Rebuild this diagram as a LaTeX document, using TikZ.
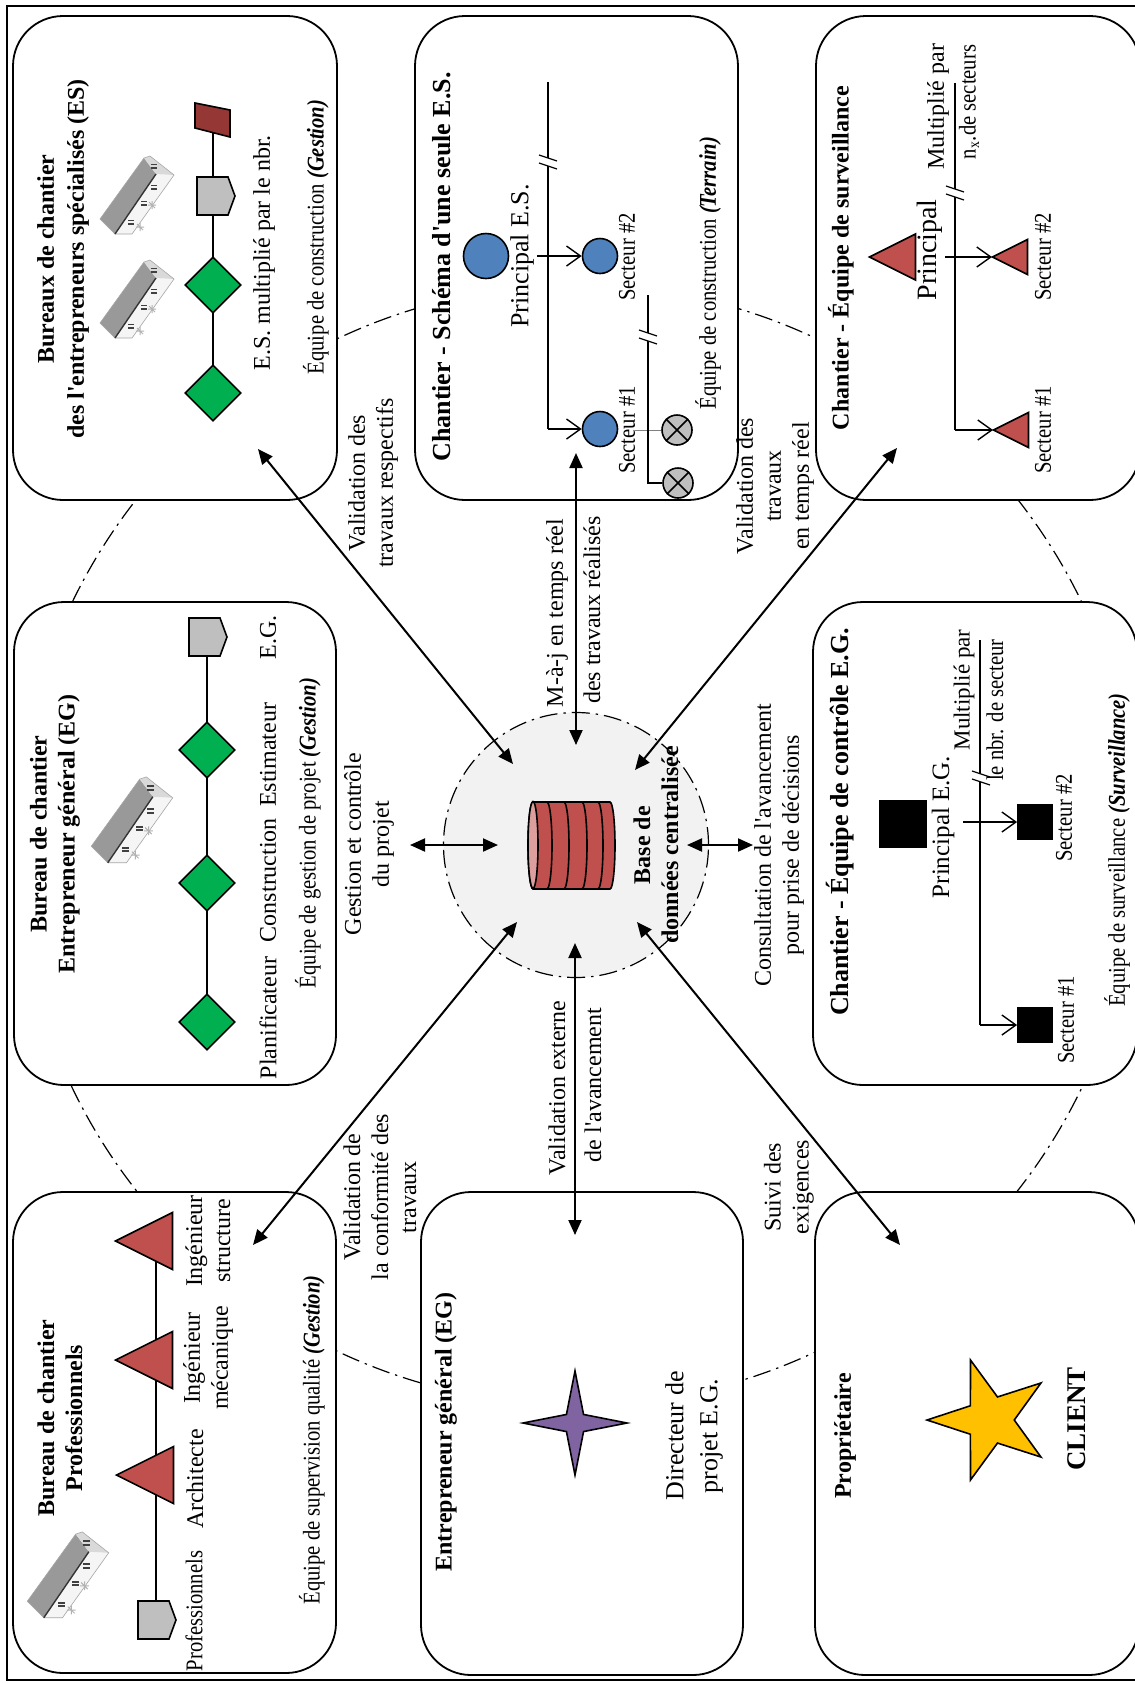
\documentclass[tikz,border=0pt]{standalone}
\usepackage{fontspec}
\setmainfont{Liberation Serif}[Ligatures=TeXOff]
\newfontfamily\narrowrm{Liberation Serif}[FakeStretch=0.86,Ligatures=TeXOff]
\usetikzlibrary{arrows.meta,shapes.geometric}
\newcommand\setfs[1]{\fontsize{#1}{14}\selectfont}

\definecolor{dbred}{HTML}{C0504D}
\definecolor{esgreen}{HTML}{00B050}
\definecolor{tagray}{HTML}{BFBFBF}
\definecolor{darkred}{HTML}{953735}
\definecolor{blueS}{HTML}{4F81BD}
\definecolor{purpleS}{HTML}{8064A2}
\definecolor{goldS}{HTML}{FFC000}
\definecolor{hubfill}{HTML}{F2F2F2}

\tikzset{
  panel/.style={draw, line width=0.9pt, fill=white, rounded corners=25pt, inner sep=0pt},
  ring/.style={line width=0.6pt, dash pattern=on 9pt off 3pt on 1.2pt off 3pt},
  link/.style={line width=1pt, {Triangle[length=7.5pt,width=6.5pt]}-{Triangle[length=7.5pt,width=6.5pt]}},
  feed/.style={line width=0.7pt, -{Straight Barb[length=7pt,width=10pt]}},
  wire/.style={line width=0.6pt},
  lbl/.style={rotate=90, inner sep=0pt, align=center},
  ttl/.style={lbl, font=\setfs{12}\bfseries},
  sm/.style={lbl, font=\narrowrm\setfs{12}},
  diam/.style={diamond, draw, fill=esgreen, line width=0.8pt, minimum size=28pt, inner sep=0pt},
  blob/.style={circle, draw, fill=blueS, line width=0.8pt, inner sep=0pt},
  xmark/.style={circle, draw, fill=tagray, line width=0.8pt, inner sep=0pt, minimum size=15pt},
  sq/.style={rectangle, draw, fill=black, inner sep=0pt},
  pics/tag/.style={code={\draw[fill=tagray, line width=0.8pt] (-19,-19) -- (12,-19) -- (19,0) -- (12,19) -- (-19,19) -- cycle;}},
  pics/tri/.style={code={\draw[fill=dbred, line width=0.8pt] (-#1,0) -- (#1,-#1) -- (#1,#1) -- cycle;}},
  pics/brk/.style={code={
    \fill[white] (-9,-7) -- (9,-1) -- (9,7) -- (-9,1) -- cycle;
    \draw[line width=0.6pt] (-9,-7) -- (9,-1) (-9,1) -- (9,7);}},
  pics/building/.style={code={
    \fill[black!40] (-37,22) -- (7,-39) -- (19,-23) -- (-22,37) -- cycle;
    \fill[black!4] (-22,37) -- (19,-23) -- (37,-22) -- (-5,37) -- cycle;
    \fill[black!15] (7,-39) -- (13,-41) -- (37,-22) -- (19,-23) -- cycle;
    \draw[black!35, line width=0.3pt] (-37,22) -- (7,-39) -- (13,-41) -- (37,-22) -- (-5,37) -- (-22,37) -- cycle;
    \draw[black!80, line width=0.7pt] (-22,37) -- (19,-23);
    \foreach \u/\v in {17/-32, 17/-11, 7/5, -6/24}
      {\fill[black!75] (\u-3,\v-1.5) rectangle (\u+3,\v+0.3);
       \fill[black!75] (\u-3,\v+1.7) rectangle (\u+3,\v+3.5);}
    \foreach \u/\v in {15/8, 3/30}
      \draw[black!30, line width=0.5pt] (\u-4,\v) -- (\u+4,\v) (\u,\v-4) -- (\u,\v+4) (\u-3,\v-3) -- (\u+3,\v+3);}},
}

\begin{document}
\begin{tikzpicture}[x=0.5pt, y=-0.5pt, font=\setfs{12}]
\useasboundingbox (0,0) rectangle (1135,1683);
\clip (0,0) rectangle (1135,1683);

% dash-dot ring joining the panels
\draw[ring] (577,845) circle[radius=280pt];

% outer frame
\draw[line width=1pt] (7,6) rectangle (1160,1680);

% panels
\node[panel, minimum width=162pt, minimum height=242pt] (bA) at (175,258) {};
\node[panel, minimum width=161.5pt, minimum height=242pt] (bD) at (576.5,258) {};
\node[panel, minimum width=162pt, minimum height=242pt] (bF) at (978,258) {};
\node[panel, minimum width=161pt, minimum height=241.5pt] (bB) at (175,843.5) {};
\node[panel, minimum width=162pt, minimum height=241.5pt] (bG) at (975,843.5) {};
\node[panel, minimum width=161.5pt, minimum height=240.5pt] (bC) at (174.5,1432.5) {};
\node[panel, minimum width=161pt, minimum height=241.5pt] (bE) at (582,1433.5) {};
\node[panel, minimum width=162pt, minimum height=241.5pt] (bH) at (977,1433.5) {};

% central database
\node[circle, fill=hubfill, draw, ring, minimum size=132.5pt] (hub) at (576,845) {};
\fill[dbred, draw=black, line width=0.8pt] (533,802) -- (610,802)
  arc[start angle=90, end angle=-90, x radius=2.5pt, y radius=21.75pt] -- (533,889)
  arc[start angle=-90, end angle=-270, x radius=2.5pt, y radius=21.75pt] -- cycle;
\draw[fill=dbred!55!white, line width=0.8pt] (533,845) ellipse[x radius=2.5pt, y radius=21.75pt];
\foreach \x in {547,564,582,598}
  \draw[line width=0.8pt] (\x,802) arc[start angle=90, end angle=-90, x radius=2.5pt, y radius=21.75pt];
\node[ttl] (dbl) at (656,845) {Base de\\données centralisée};

% links between the database and the panels
\coordinate (hA) at (513,764);  \coordinate (tA) at (258,449);
\coordinate (hD) at (576,745);  \coordinate (tD) at (576,453);
\coordinate (hF) at (635,770);  \coordinate (tF) at (897,448);
\coordinate (hB) at (498,845);  \coordinate (tB) at (410,845);
\coordinate (hG) at (687,845);  \coordinate (tG) at (753,845);
\coordinate (hC) at (517,922);  \coordinate (tC) at (253,1245);
\coordinate (hE) at (575,943);  \coordinate (tE) at (575,1235);
\coordinate (hH) at (637,922);  \coordinate (tH) at (900,1245);
\foreach \k in {A,D,F,B,G,C,E,H} \draw[link] (h\k) -- (t\k);

% link labels
\node[lbl] (lA) at (373,483) {Validation des\\travaux respectifs};
\node[lbl] (lD1) at (557,613) {M-à-j en temps réel};
\node[lbl] (lD2) at (592,610) {des travaux réalisés};
\node[lbl] (lF) at (775,486) {Validation des\\travaux\\en temps réel};
\node[lbl] (lB) at (369,844) {Gestion et contrôle\\du projet};
\node[lbl] (lG) at (779,845) {Consultation de l'avancement\\pour prise de décisions};
\node[lbl] (lC) at (380,1197) {Validation de\\la conformité des\\travaux};
\node[lbl] (lE1) at (557,1088) {Validation externe};
\node[lbl] (lE2) at (593,1085) {de l'avancement};
\node[lbl] (lH) at (789,1187) {Suivi des\\exigences};

% --- Bureaux de chantier des ES
\node[ttl, font=\fontsize{12}{15}\selectfont\bfseries] (tiA) at (63,259) {Bureaux de chantier\\des l'entrepreneurs spécialisés (ES)};
\pic at (137,197) {building};
\pic at (137,301) {building};
\coordinate (a0) at (213,120); \coordinate (a1) at (216,196);
\coordinate (a2) at (213,285); \coordinate (a3) at (213,393);
\draw[wire] (a0) -- (a3);
\draw[fill=darkred, line width=0.8pt] (195,103) -- (230,110) -- (230,137) -- (195,128) -- cycle;
\pic at (a1) {tag};
\node[diam] (dA1) at (a2) {};
\node[diam] (dA2) at (a3) {};
\node[lbl] (nA) at (264,253) {E.S. multiplié par le nbr.};
\node[sm] (eA) at (316,237) {Équipe de construction \textbf{\textit{(Gestion)}}};

% --- Bureau de chantier EG
\node[ttl] (tiB) at (55,834) {Bureau de chantier\\Entrepreneur général (EG)};
\pic[scale=1.1] at (132,822) {building};
\coordinate (b0) at (207,637); \coordinate (b3) at (207,1022);
\draw[wire] (b0) -- (b3);
\pic at (208,637) {tag};
\node[diam] (dB1) at (207,750) {};
\node[diam] (dB2) at (207,883) {};
\node[diam] (dB3) at (b3) {};
\node[lbl] (nB0) at (268,637) {E.G.};
\node[lbl] (nB1) at (268,755) {Estimateur};
\node[lbl] (nB2) at (268,880) {Construction};
\node[lbl] (nB3) at (268,1018) {Planificateur};
\node[sm] (eB) at (308,833) {Équipe de gestion de projet \textbf{\textit{(Gestion)}}};

% --- Bureau de chantier Professionnels
\node[ttl] (tiC) at (60,1418) {Bureau de chantier\\Professionnels};
\pic[scale=1.1] at (68,1577) {building};
\coordinate (c0) at (156,1241); \coordinate (c3) at (156,1620);
\draw[wire] (c0) -- (c3);
\pic at (144,1241) {tri=28.5};
\pic at (144,1360) {tri=28.5};
\pic at (145,1475) {tri=28.5};
\pic at (157,1620) {tag};
\node[lbl] (nC1) at (208,1241) {Ingénieur\\structure};
\node[lbl] (nC2) at (208,1358) {Ingénieur\\mécanique};
\node[lbl] (nC3) at (195,1479) {Architecte};
\node[sm] (nC4) at (194,1611) {Professionnels};
\node[sm] (eC) at (312,1440) {Équipe de supervision qualité \textbf{\textit{(Gestion)}}};

% --- Chantier, schéma d'une seule ES
\node[ttl, font=\setfs{13}\bfseries] (tiD) at (442,267) {Chantier - Schéma d'une seule E.S.};
\node[blob, minimum size=22.5pt] (pD) at (486,256) {};
\node[lbl, font=\setfs{13}] (npD) at (522,256) {Principal E.S.};
\node[blob, minimum size=17.5pt] (s2D) at (600,256) {};
\node[blob, minimum size=17.5pt] (s1D) at (600,429) {};
\coordinate (dTop) at (548,82); \coordinate (dTurn) at (548,429);
\draw[wire] (dTop) -- (dTurn);
\draw[feed] (dTurn) -- (s1D);
\coordinate (pDout) at (537,256);
\draw[feed] (pDout) -- (s2D);
\pic at (548,162) {brk};
\node[sm] (n2D) at (627,257) {Secteur \#2};
\node[sm] (n1D) at (627,430) {Secteur \#1};
\node[xmark] (ox1) at (677,430) {};
\node[xmark] (ox2) at (678,483) {};
\draw[line width=0.8pt] (ox1.north west) -- (ox1.south east) (ox1.north east) -- (ox1.south west);
\draw[line width=0.8pt] (ox2.north west) -- (ox2.south east) (ox2.north east) -- (ox2.south west);
\draw[gray, line width=0.5pt] (n1D.south) -- (ox1);
\coordinate (d2Top) at (648,295); \coordinate (d2Bot) at (648,483);
\draw[wire] (d2Top) -- (d2Bot) -- (ox2);
\pic at (648,337) {brk};
\node[sm] (eD) at (708,273) {Équipe de construction \textbf{\textit{(Terrain)}}};

% --- Chantier, équipe de surveillance
\node[ttl] (tiF) at (841,258) {Chantier - Équipe de surveillance};
\pic at (892.5,257) {tri=23};
\node[lbl, font=\setfs{14}] (npF) at (930,250) {Principal};
\coordinate (fTop) at (955,83); \coordinate (fTurn) at (955,430);
\coordinate (fOut) at (945,257);
\coordinate (s2F) at (992,257); \coordinate (s1F) at (993,430);
\draw[wire] (fTop) -- (fTurn);
\draw[feed] (fTurn) -- (s1F);
\draw[feed] (fOut) -- (s2F);
\pic at (1010,257) {tri=17.5};
\pic at (1011,430) {tri=17.5};
\pic at (955,193) {brk};
\node[lbl] (mF) at (938,107) {Multiplié par};
\node[sm] (mF2) at (969,102) {n\textsubscript{x}.de secteurs};
\node[sm] (n2F) at (1043,257) {Secteur \#2};
\node[sm] (n1F) at (1043,430) {Secteur \#1};

% --- Chantier, équipe de contrôle EG
\node[ttl, font=\setfs{13}\bfseries] (tiG) at (840,822) {Chantier - Équipe de contrôle E.G.};
\node[sq, minimum size=23.5pt] (pG) at (903,824) {};
\node[lbl, font=\setfs{12.5}] (npG) at (943,827) {Principal E.G.};
\node[sq, minimum size=17.5pt] (s2G) at (1035,822) {};
\node[sq, minimum size=17.5pt] (s1G) at (1035,1025) {};
\coordinate (gTop) at (980,640); \coordinate (gTurn) at (980,1025);
\coordinate (gOut) at (963,822);
\draw[wire] (gTop) -- (gTurn);
\draw[feed] (gTurn) -- (s1G);
\draw[feed] (gOut) -- (s2G);
\pic at (981,778) {brk};
\node[lbl, font=\setfs{11.5}] (mG) at (964,690) {Multiplié par};
\node[sm] (mG2) at (995,710) {le nbr. de secteur};
\node[sm] (n2G) at (1064,818) {Secteur \#2};
\node[sm] (n1G) at (1066,1020) {Secteur \#1};
\node[sm] (eG) at (1117,850) {Équipe de surveillance \textbf{\textit{(Surveillance)}}};

% --- Entrepreneur général
\node[ttl] (tiE) at (446,1432) {Entrepreneur général (EG)};
\node[star, star points=4, star point ratio=4.3, draw, fill=purpleS, line width=0.8pt,
      minimum size=52pt, inner sep=0pt] (stE) at (575,1423) {};
\node[lbl, font=\fontsize{13}{17}\selectfont] (nE) at (694,1436) {Directeur de\\projet E.G.};

% --- Client
\node[ttl] (tiH) at (845,1436) {Propriétaire};
\node[star, star points=5, star point ratio=2.6, shape border rotate=90, draw, fill=goldS,
      line width=0.8pt, minimum size=63pt, inner sep=0pt] (stH) at (990,1420) {};
\node[ttl, font=\setfs{13.5}\bfseries] (nH) at (1077,1419) {CLIENT};

\end{tikzpicture}
\end{document}
